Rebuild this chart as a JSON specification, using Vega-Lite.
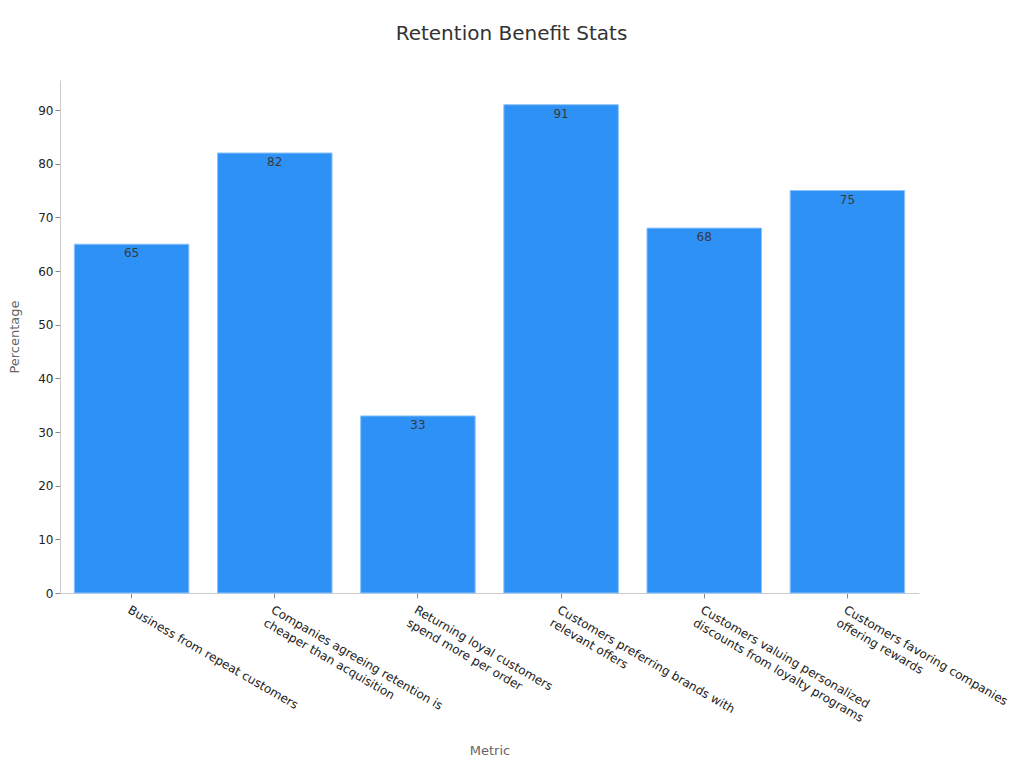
{
  "$schema": "https://vega.github.io/schema/vega-lite/v6.json",
  "width": 859,
  "height": 513,
  "padding": {"left": 8, "top": 24, "right": 5, "bottom": 5},
  "background": "white",
  "title": {
    "text": "Retention Benefit Stats",
    "font": "DejaVu Sans",
    "fontSize": 20,
    "fontWeight": "normal",
    "color": "#333333",
    "offset": 36,
    "dx": 22
  },
  "config": {
    "view": {"stroke": null},
    "font": "DejaVu Sans"
  },
  "data": {
    "values": [
      {"metric": "Business from repeat customers", "value": 65},
      {"metric": "Companies agreeing retention is cheaper than acquisition", "value": 82},
      {"metric": "Returning loyal customers spend more per order", "value": 33},
      {"metric": "Customers preferring brands with relevant offers", "value": 91},
      {"metric": "Customers valuing personalized discounts from loyalty programs", "value": 68},
      {"metric": "Customers favoring companies offering rewards", "value": 75}
    ]
  },
  "encoding": {
    "x": {
      "field": "metric",
      "type": "nominal",
      "sort": null,
      "scale": {"paddingInner": 0.2, "paddingOuter": 0.1},
      "axis": {
        "title": "Metric",
        "titleFont": "DejaVu Sans",
        "titleFontSize": 13,
        "titleFontWeight": "normal",
        "titleColor": "#666666",
        "titlePadding": 17,
        "labelAngle": 30,
        "labelAlign": "left",
        "labelBaseline": "top",
        "labelFontSize": 12,
        "labelColor": "#222222",
        "labelPadding": 6,
        "labelLimit": 400,
        "labelLineHeight": 15,
        "domainColor": "#cccccc",
        "tickColor": "#888888",
        "labelExpr": "({'Companies agreeing retention is cheaper than acquisition': ['Companies agreeing retention is', 'cheaper than acquisition'], 'Returning loyal customers spend more per order': ['Returning loyal customers', 'spend more per order'], 'Customers preferring brands with relevant offers': ['Customers preferring brands with', 'relevant offers'], 'Customers valuing personalized discounts from loyalty programs': ['Customers valuing personalized', 'discounts from loyalty programs'], 'Customers favoring companies offering rewards': ['Customers favoring companies', 'offering rewards']})[datum.value] || datum.value"
      }
    },
    "y": {
      "field": "value",
      "type": "quantitative",
      "scale": {"domain": [0, 95.6], "nice": false},
      "axis": {
        "title": "Percentage",
        "titleFont": "DejaVu Sans",
        "titleFontSize": 13,
        "titleFontWeight": "normal",
        "titleColor": "#666666",
        "titlePadding": 16,
        "values": [0, 10, 20, 30, 40, 50, 60, 70, 80, 90],
        "labelFontSize": 12,
        "labelColor": "#222222",
        "grid": false,
        "domainColor": "#cccccc",
        "tickColor": "#888888"
      }
    }
  },
  "layer": [
    {
      "mark": {"type": "bar", "color": "#2e91f5", "stroke": "#8fc4fa", "strokeWidth": 1}
    },
    {
      "mark": {"type": "text", "baseline": "top", "dy": 4, "fontSize": 12, "color": "#3a3a3a"},
      "encoding": {"text": {"field": "value", "type": "quantitative"}}
    }
  ]
}
